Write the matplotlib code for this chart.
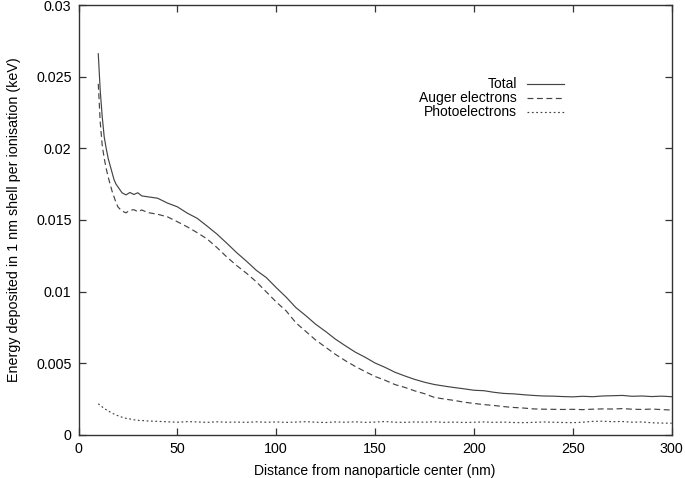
import matplotlib.pyplot as plt

plt.rcParams["font.family"] = ["Liberation Sans", "DejaVu Sans"]

# distance from nanoparticle center (nm)
distance_nm = [10, 11, 12, 13, 14, 15, 16, 17, 18, 19, 20, 22, 24, 26, 28, 30, 32, 35,
               40, 45, 50, 55, 60, 65, 70, 75, 80, 85, 90, 95, 100, 105, 110, 115, 120,
               125, 130, 135, 140, 145, 150, 155, 160, 165, 170, 175, 180, 185, 190, 195,
               200, 205, 210, 215, 220, 225, 230, 235, 240, 245, 250, 255, 260, 265, 270,
               275, 280, 285, 290, 295, 300]

# energy deposited in 1 nm shell per ionisation (keV)
total = [0.0266, 0.0240, 0.0222, 0.0208, 0.0200, 0.0193, 0.0188, 0.0183, 0.0178, 0.0175,
         0.0173, 0.0169, 0.01675, 0.01692, 0.01678, 0.01690, 0.01668, 0.01662,
         0.01652, 0.01618, 0.01592, 0.01548, 0.01512, 0.01458, 0.01402, 0.01338,
         0.01272, 0.01212, 0.01148, 0.01098, 0.01028, 0.00962, 0.00888, 0.00832,
         0.00772, 0.00722, 0.00668, 0.00622, 0.00578, 0.00542, 0.00502, 0.00472,
         0.00438, 0.00412, 0.00388, 0.00368, 0.00352, 0.00341, 0.00331, 0.00322,
         0.00312, 0.00309, 0.00298, 0.00290, 0.00287, 0.00281, 0.00276, 0.00272,
         0.00271, 0.00268, 0.00266, 0.00270, 0.00267, 0.00272, 0.00274, 0.00276,
         0.00270, 0.00272, 0.00268, 0.00271, 0.00267]

auger = [0.0245, 0.0218, 0.0202, 0.0193, 0.0186, 0.0180, 0.0175, 0.0170, 0.0166, 0.0162,
         0.0159, 0.01562, 0.01550, 0.01568, 0.01572, 0.01558, 0.01570, 0.01552,
         0.01540, 0.01522, 0.01488, 0.01452, 0.01412, 0.01368, 0.01308, 0.01242,
         0.01182, 0.01128, 0.01068, 0.00998, 0.00928, 0.00866, 0.00782, 0.00722,
         0.00662, 0.00612, 0.00562, 0.00518, 0.00478, 0.00442, 0.00408, 0.00382,
         0.00352, 0.00332, 0.00308, 0.00288, 0.00262, 0.00251, 0.00241, 0.00229,
         0.00220, 0.00212, 0.00206, 0.00198, 0.00192, 0.00188, 0.00182, 0.00180,
         0.00179, 0.00178, 0.00179, 0.00177, 0.00180, 0.00182, 0.00181, 0.00184,
         0.00180, 0.00178, 0.00181, 0.00177, 0.00174]

photo = [0.00218, 0.00206, 0.00196, 0.00186, 0.00176, 0.00168, 0.00160, 0.00152,
         0.00146, 0.00140, 0.00134, 0.00124, 0.00116, 0.00112, 0.00106, 0.00102,
         0.00101, 0.00098, 0.00095, 0.00092, 0.00089, 0.00093, 0.00091, 0.00088,
         0.00092, 0.00089, 0.00090, 0.00088, 0.00092, 0.00089, 0.00091, 0.00088,
         0.00090, 0.00093, 0.00089, 0.00087, 0.00091, 0.00089, 0.00092, 0.00088,
         0.00090, 0.00094, 0.00089, 0.00088, 0.00091, 0.00089, 0.00092, 0.00088,
         0.00090, 0.00087, 0.00089, 0.00091, 0.00088, 0.00090, 0.00087, 0.00086,
         0.00088, 0.00091, 0.00089, 0.00087, 0.00086, 0.00089, 0.00095, 0.00096,
         0.00093, 0.00094, 0.00089, 0.00091, 0.00085, 0.00083, 0.00082]

series_labels = ["Total", "Auger electrons", "Photoelectrons"]

LINE_COLOR = "#444444"
STYLES = ["-", (0, (5, 3)), (0, (1.5, 2.2))]
FONT_SIZE = 10

fig = plt.figure(figsize=(6.85, 4.78), dpi=100)
ax = fig.add_axes([0.1146, 0.0900, 0.8660, 0.8995])

for values, ls in zip([total, auger, photo], STYLES):
    ax.plot(distance_nm, values, color=LINE_COLOR, linestyle=ls, linewidth=0.85)

ax.set_xlim(0, 300)
ax.set_ylim(0, 0.03)
ax.set_xticks([0, 50, 100, 150, 200, 250, 300])
ax.set_yticks([0, 0.005, 0.01, 0.015, 0.02, 0.025, 0.03])
ax.set_yticklabels(["0", "0.005", "0.01", "0.015", "0.02", "0.025", "0.03"])
ax.tick_params(direction="in", top=True, right=True, length=5, width=0.9,
               labelsize=FONT_SIZE + 0.3, color="#333333", pad=5)
for spine in ax.spines.values():
    spine.set_linewidth(1.0)
    spine.set_color("#333333")

ax.set_xlabel("Distance from nanoparticle center (nm)", fontsize=FONT_SIZE, labelpad=6)
ax.set_ylabel("Energy deposited in 1 nm shell per ionisation (keV)",
              fontsize=FONT_SIZE + 0.3, labelpad=11)

# gnuplot-style key: right-aligned text, sample line to its right
key_rows = [0.816, 0.784, 0.752]
for label, ls, ky in zip(series_labels, STYLES, key_rows):
    ax.text(0.7395, ky, label, transform=ax.transAxes, ha="right", va="center",
            fontsize=FONT_SIZE)
    ax.plot([0.7560, 0.8190], [ky, ky], transform=ax.transAxes, color=LINE_COLOR,
            linestyle=ls, linewidth=0.85)

fig.savefig("out.png", dpi=100)
